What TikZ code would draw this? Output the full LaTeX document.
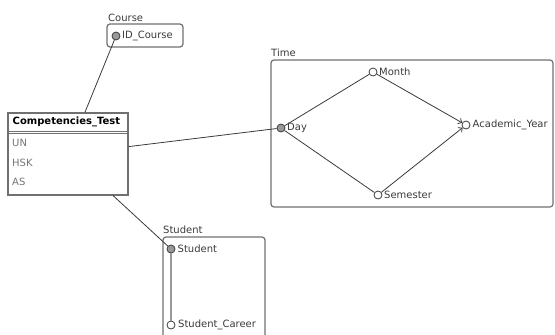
\documentclass[tikz,border=0pt]{standalone}
\usepackage{fontspec}
\setmainfont{DejaVu Sans}
\usetikzlibrary{arrows.meta}
\definecolor{boxc}{HTML}{707070}
\definecolor{txt}{HTML}{3A3A3A}
\definecolor{rowtxt}{HTML}{757575}
\definecolor{hier}{HTML}{999999}
\begin{document}
\begin{tikzpicture}[x=1pt,y=-1pt,
  group/.style={draw=boxc,line width=1.2pt,rounded corners=3pt},
  grouplabel/.style={anchor=south west,inner sep=0pt,text=txt,font=\fontsize{10}{12}\selectfont},
  lvl/.style={circle,draw=txt,line width=0.8pt,fill=white,minimum size=8pt,inner sep=0pt},
  key/.style={lvl,fill=hier},
  lbl/.style={anchor=west,inner sep=0pt,text=txt,font=\fontsize{10}{12}\selectfont},
  row/.style={anchor=west,inner sep=0pt,text=rowtxt,font=\fontsize{10}{12}\selectfont},
  link/.style={draw=txt,line width=0.8pt},
  roll/.style={link,-{Straight Barb[length=3pt,width=6pt]}},
]
\useasboundingbox (0,0) rectangle (555,335);
% groups
\node[group,minimum width=76pt,minimum height=23pt,inner sep=0pt] (coursebox) at (145,35.5) {};
\node[grouplabel] (courselbl) at (108,22) {Course};
\node[group,minimum width=282pt,minimum height=147pt,inner sep=0pt] (timebox) at (412,133.5) {};
\node[grouplabel] (timelbl) at (271,57) {Time};
\draw[group] (163,345) -- (163,237) -- (265,237) -- (265,345);
\coordinate (studentbox) at (214,237);
\node[grouplabel] (studentlbl) at (163,234) {Student};
% fact table
\node[draw=boxc,line width=1.2pt,minimum width=120pt,minimum height=82pt,inner sep=0pt] (ct) at (68,154) {};
\draw[boxc,line width=0.8pt] (8,131.5) -- (128,131.5);
\draw[boxc,line width=0.5pt] (8,133.5) -- (128,133.5);
\node[anchor=west,inner sep=0pt,text=black,font=\fontsize{10}{12}\selectfont\bfseries] (cthead) at (12.5,122) {Competencies\_Test};
\node[row] (un) at (12,143) {UN};
\node[row] (hsk) at (12,163) {HSK};
\node[row] (as) at (12,182) {AS};
% levels
\node[key] (idc) at (116,36) {};
\node[lbl] (idcl) at (122,36) {ID\_Course};
\node[key] (day) at (281,128) {};
\node[lbl] (dayl) at (287,128) {Day};
\node[lvl] (month) at (373,72) {};
\node[lbl] (monthl) at (379,71.5) {Month};
\node[lvl] (ay) at (466,125) {};
\node[lbl] (ayl) at (472.5,124.5) {Academic\_Year};
\node[lvl] (sem) at (378,195) {};
\node[lbl] (seml) at (384,194.5) {Semester};
\node[key] (stu) at (171,249) {};
\node[lbl] (stul) at (177.5,249) {Student};
\node[lvl] (car) at (171,325) {};
\node[lbl] (carl) at (178,325) {Student\_Career};
% connectors
\draw[link] (idc) -- (ct);
\draw[link] (ct) -- (day);
\draw[link] (ct) -- (stu);
\draw[link] (day) -- (month);
\draw[link] (day) -- (sem);
\draw[roll] (month) -- (ay);
\draw[roll] (sem) -- (ay);
\draw[draw=txt,line width=0.5pt,double=hier,double distance=1.2pt] (stu) -- (car);
\end{tikzpicture}
\end{document}
